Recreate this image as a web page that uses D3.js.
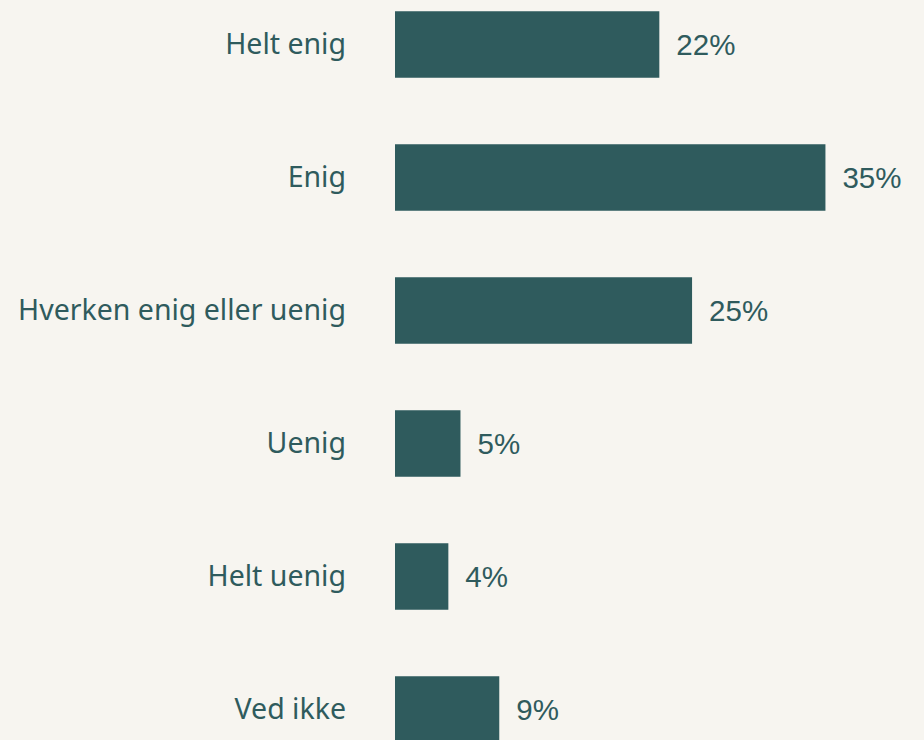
<!DOCTYPE html>
<html>
<head>
<meta charset="utf-8">
<script src="https://cdn.jsdelivr.net/npm/d3@7"></script>
<style>
  html, body { margin: 0; padding: 0; background: #f7f5f0; }
  svg { display: block; }
</style>
</head>
<body>
<div id="chart"></div>
<script>
// ---------------------- DATA ----------------------
const categories = ["Helt enig", "Enig", "Hverken enig eller uenig", "Uenig", "Helt uenig", "Ved ikke"];
const values = [21.8, 35.5, 24.5, 5.4, 4.4, 8.6];   // share in %
const valueLabels = ["22%", "35%", "25%", "5%", "4%", "9%"];

const width = 924, height = 740;
const barColor = "#2f5b5d";
const textColor = "#2f5b5d";

const svg = d3.select("#chart").append("svg")
    .attr("width", width)
    .attr("height", height);

svg.append("rect")
    .attr("width", width)
    .attr("height", height)
    .attr("fill", "#f7f5f0");

// scales
const x = d3.scaleLinear()
    .domain([0, 40])
    .range([395, 880]);

const y = d3.scaleBand()
    .domain(categories)
    .range([-22, 776])
    .paddingInner(0.5)
    .paddingOuter(0.25);

const rows = svg.selectAll(".row")
    .data(categories.map((c, i) => ({cat: c, value: values[i], label: valueLabels[i]})))
    .join("g")
    .attr("class", "row");

// bars
rows.append("rect")
    .attr("x", x(0))
    .attr("y", d => y(d.cat))
    .attr("width", d => x(d.value) - x(0))
    .attr("height", y.bandwidth())
    .attr("fill", barColor);

// category labels on the left
rows.append("text")
    .attr("x", 346)
    .attr("y", d => y(d.cat) + y.bandwidth() / 2)
    .attr("dy", "0.32em")
    .attr("text-anchor", "end")
    .attr("fill", textColor)
    .style("font-family", "'Noto Sans', sans-serif")
    .style("font-size", "28.5px")
    .text(d => d.cat);

// value labels right of bars
rows.append("text")
    .attr("x", d => x(d.value) + 17)
    .attr("y", d => y(d.cat) + y.bandwidth() / 2)
    .attr("dy", "0.36em")
    .attr("fill", textColor)
    .style("font-family", "'Liberation Sans', Arial, sans-serif")
    .style("font-size", "29.5px")
    .text(d => d.label);
</script>
</body>
</html>
